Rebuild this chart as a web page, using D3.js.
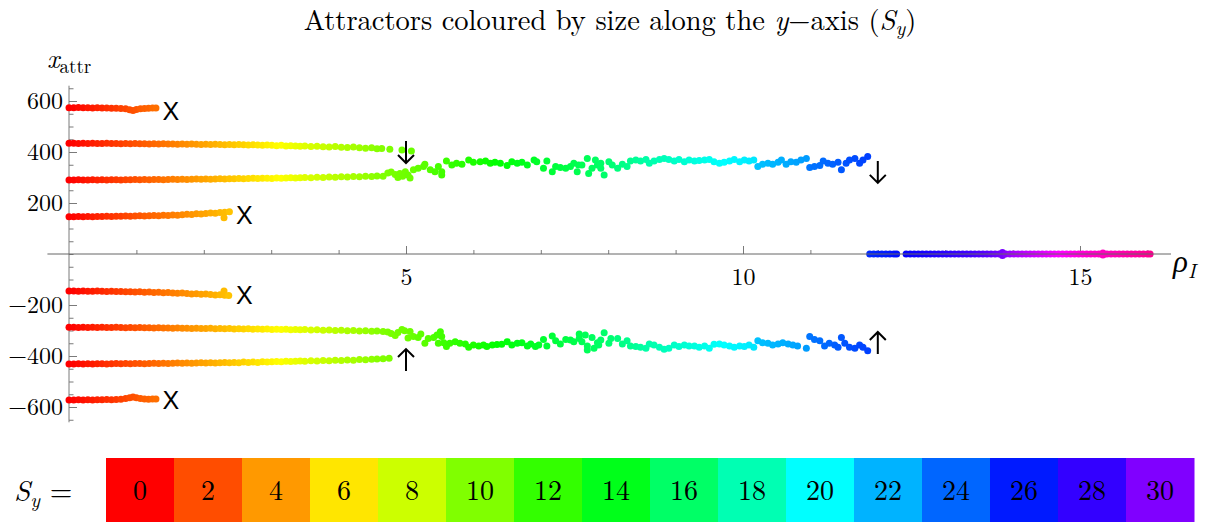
<!DOCTYPE html>
<html>
<head>
<meta charset="utf-8">
<script src="https://cdn.jsdelivr.net/npm/d3@7"></script>
<style>
  body { margin: 0; background: #fff; }
  text { font-family: "Latin Modern Roman", "CMU Serif", "Liberation Serif", serif; }
  .tick text { font-family: "Latin Modern Roman", "CMU Serif", "Liberation Serif", serif; font-size: 24px; fill: #000; }
  .tick line { stroke: #7a7a7a; }
</style>
</head>
<body>
<div id="chart"></div>
<script>
// each point: [rho_I, x_attr, S_y]
const upperOuter = [[0,574,0],[0.07,574,0.1],[0.14,575,0.3],[0.21,574,0.4],[0.28,574,0.6],[0.35,573,0.7],[0.42,574,0.9],[0.49,573,1.0],[0.56,573,1.2],[0.63,572,1.3],[0.70,572,1.5],[0.77,571,1.7],[0.84,570,1.8],[0.90,566,2.0],[0.95,563,2.1],[1.00,567,2.2],[1.06,570,2.4],[1.12,571,2.5],[1.18,572,2.6],[1.24,573,2.8],[1.29,573,2.9]];

const upperMiddle = [[0,434,0],[0.07,434,0.1],[0.14,433,0.3],[0.21,434,0.4],[0.28,433,0.6],[0.35,434,0.7],[0.42,433,0.9],[0.49,433,1.0],[0.56,434,1.2],[0.63,433,1.3],[0.70,433,1.5],[0.77,432,1.6],[0.84,433,1.8],[0.91,432,1.9],[0.98,433,2.1],[1.05,432,2.2],[1.12,432,2.4],[1.19,431,2.5],[1.26,432,2.7],[1.33,431,2.8],[1.40,432,3.0],[1.47,431,3.1],[1.54,431,3.3],[1.61,430,3.4],[1.68,431,3.6],[1.75,430,3.7],[1.82,431,3.9],[1.89,430,4.0],[1.96,429,4.2],[2.03,430,4.3],[2.10,429,4.5],[2.17,430,4.6],[2.24,429,4.8],[2.31,428,4.9],[2.38,429,5.1],[2.45,428,5.2],[2.52,429,5.4],[2.59,428,5.5],[2.66,427,5.7],[2.73,428,5.8],[2.80,427,6.0],[2.87,426,6.1],[2.94,427,6.3],[3.01,426,6.4],[3.08,425,6.6],[3.15,426,6.7],[3.22,424,6.9],[3.29,425,7.0],[3.36,424,7.2],[3.43,423,7.3],[3.50,424,7.5],
  [3.59,422,7.7],[3.68,423,7.9],[3.77,421,8.1],[3.86,420,8.3],[3.95,422,8.5],[4.04,419,8.7],[4.13,418,8.9],[4.22,420,9.0],[4.31,417,9.2],[4.40,415,9.4],[4.49,417,9.6],[4.57,413,9.8],[4.64,414,9.9],[4.76,411,10.1],[4.94,408,10.4],[5.08,404,10.6]];

const upperInner = [[0,146,0],[0.07,146,0.1],[0.14,147,0.3],[0.21,146,0.4],[0.28,147,0.6],[0.35,146,0.7],[0.42,147,0.9],[0.49,147,1.0],[0.56,148,1.2],[0.63,147,1.3],[0.70,148,1.5],[0.77,148,1.6],[0.84,149,1.8],[0.91,148,1.9],[0.98,149,2.1],[1.05,150,2.2],[1.12,149,2.4],[1.19,150,2.5],[1.26,151,2.7],[1.33,150,2.8],[1.40,152,3.0],[1.47,151,3.1],[1.54,153,3.3],[1.61,152,3.4],[1.68,154,3.6],[1.75,156,3.7],[1.82,155,3.9],[1.89,158,4.0],[1.96,157,4.2],[2.03,159,4.3],[2.10,161,4.5],[2.17,160,4.6],[2.24,163,4.8],[2.30,142,4.9],[2.31,164,4.9],[2.38,166,5.1]];

const upperMerged = [[0,290,0],[0.07,290,0.1],[0.14,291,0.3],[0.21,290,0.4],[0.28,290,0.6],[0.35,291,0.7],[0.42,290,0.9],[0.49,291,1.0],[0.56,290,1.2],[0.63,291,1.3],[0.70,291,1.5],[0.77,290,1.6],[0.84,291,1.8],[0.91,291,1.9],[0.98,292,2.1],[1.05,291,2.2],[1.12,292,2.4],[1.19,291,2.5],[1.26,292,2.7],[1.33,292,2.8],[1.40,291,3.0],[1.47,292,3.1],[1.54,293,3.3],[1.61,292,3.4],[1.68,293,3.6],[1.75,292,3.7],[1.82,293,3.9],[1.89,294,4.0],[1.96,293,4.2],[2.03,294,4.3],[2.10,293,4.5],[2.17,294,4.6],[2.24,295,4.8],[2.31,294,4.9],[2.38,295,5.1],[2.45,295,5.2],[2.52,296,5.4],[2.59,295,5.5],[2.66,296,5.7],[2.73,297,5.8],[2.80,296,6.0],[2.87,297,6.1],[2.94,297,6.3],[3.01,296,6.4],[3.08,298,6.6],[3.15,297,6.7],[3.22,298,6.9],[3.29,299,7.0],[3.36,298,7.2],[3.43,299,7.3],[3.50,300,7.5],
  [3.59,299,7.7],[3.68,301,7.9],[3.77,300,8.1],[3.86,302,8.3],[3.95,301,8.5],[4.04,303,8.7],[4.13,302,8.9],[4.22,304,9.0],[4.31,303,9.2],[4.40,305,9.4],[4.49,304,9.6],[4.57,306,9.8],[4.66,305,10.0],
  [4.73,318,10.1],[4.78,322,10.2],[4.84,312,10.2],[4.88,300,10.3],[4.91,316,10.3],[4.95,305,10.4],[4.99,323,10.4],[5.03,310,10.5],[5.06,298,10.5],
  [5.11,330,10.6],[5.18,336,10.8],[5.26,343,11.0],[5.28,352,11.0],[5.36,330,11.2],[5.43,323,11.4],[5.48,343,11.5],[5.53,310,11.6],[5.53,323,11.6],
  [5.60,365,11.8],[5.68,349,12.0],[5.75,356,12.1],[5.83,352,12.3],[5.93,369,12.5],[6.00,360,12.6],[6.10,362,12.8],[6.18,365,13.0],[6.25,356,13.1],[6.32,360,13.3],[6.40,356,13.4],[6.50,347,13.6],[6.57,362,13.7],[6.65,356,13.9],[6.72,360,14.0],[6.80,349,14.1],[6.90,369,14.3],[6.94,362,14.4],
  [7.04,336,14.6],[7.09,365,14.7],[7.17,323,14.8],[7.22,343,14.9],[7.29,339,15.0],[7.37,336,15.1],[7.44,343,15.2],[7.49,356,15.3],[7.54,323,15.4],[7.56,349,15.4],[7.61,349,15.5],[7.69,375,15.6],[7.71,316,15.7],[7.76,336,15.8],[7.81,369,15.9],[7.84,349,15.9],[7.89,336,16.0],[7.89,356,16.0],[7.94,310,16.1],[8.01,362,16.3],[8.06,349,16.4],[8.14,336,16.6],[8.21,352,16.8],[8.28,343,17.0],
  [8.33,365,17.1],[8.41,369,17.3],[8.48,365,17.5],[8.56,371,17.7],[8.61,356,17.8],[8.68,365,17.9],[8.76,371,18.1],[8.83,375,18.2],[8.90,371,18.4],[8.98,365,18.5],[9.05,371,18.7],[9.13,362,18.8],[9.20,369,19.0],[9.28,365,19.1],[9.35,367,19.3],[9.43,369,19.4],[9.50,371,19.6],[9.57,362,19.7],[9.65,356,19.9],[9.72,360,20.0],[9.80,365,20.1],[9.87,371,20.2],[9.95,362,20.3],[10.02,369,20.4],[10.09,365,20.5],[10.16,369,20.6],
  [10.22,343,21.6],[10.29,352,21.7],[10.37,356,21.8],[10.44,352,21.9],[10.52,360,22.0],[10.57,369,22.1],[10.64,352,22.2],[10.71,362,22.3],[10.79,360,22.4],[10.86,369,22.5],[10.94,375,22.6],
  [10.99,339,23.6],[11.06,343,23.7],[11.14,347,23.8],[11.19,365,23.9],[11.26,356,24.0],[11.33,352,24.1],[11.41,360,24.3],[11.46,330,24.4],[11.53,356,24.5],[11.58,369,24.6],[11.66,375,24.7],[11.73,356,24.8],[11.78,369,24.9],[11.85,382,25.0]];

const axisBranch = [[11.88,0,25.6],[11.94,0,25.7],[12.00,0,25.8],[12.06,0,25.9],[12.12,0,26.0],[12.18,0,26.1],[12.24,0,26.2],[12.28,0,26.3],
  [12.42,0,26.8],[12.48,0,26.9],[12.54,0,27.0],[12.60,0,27.1],[12.66,0,27.2],[12.72,0,27.3],[12.78,0,27.4],[12.84,0,27.5],[12.90,0,27.6],[12.96,0,27.7],[13.02,0,27.8],[13.08,0,27.9],[13.14,0,28.0],[13.20,0,28.1],[13.26,0,28.2],[13.32,0,28.3],[13.38,0,28.4],[13.44,0,28.5],[13.50,0,28.7],[13.56,0,28.8],[13.62,0,29.0],[13.68,0,29.2],[13.74,0,29.4],[13.80,0,29.6],[13.85,6,29.8],[13.85,-6,29.8],[13.90,0,30.2],[13.96,0,30.6],[14.02,0,31.0],[14.08,0,31.2],[14.14,0,31.4],[14.20,0,31.6],[14.26,0,31.8],[14.32,0,32.0],[14.38,0,32.2],[14.44,0,32.4],[14.50,0,32.6],[14.56,0,32.8],[14.62,0,33.0],[14.68,0,33.2],[14.74,0,33.4],[14.80,0,33.6],[14.86,0,33.8],[14.92,0,34.0],[14.98,0,34.2],[15.04,0,34.4],[15.10,0,34.6],[15.16,0,34.7],[15.22,0,34.8],[15.28,0,34.9],[15.34,4,35.0],[15.34,-4,35.0],[15.40,0,35.1],[15.46,0,35.2],[15.52,0,35.3],[15.58,0,35.4],[15.64,0,35.5],[15.70,0,35.6],[15.76,0,35.7],[15.82,0,35.8],[15.88,0,35.9],[15.94,0,36.0],[16.00,0,36.1],[16.04,0,36.2]];

const lowerInner = [[0,-145,0],[0.07,-145,0.1],[0.14,-146,0.3],[0.21,-145,0.4],[0.28,-146,0.6],[0.35,-146,0.7],[0.42,-145,0.9],[0.49,-146,1.0],[0.56,-147,1.2],[0.63,-146,1.3],[0.70,-147,1.5],[0.77,-147,1.6],[0.84,-148,1.8],[0.91,-148,1.9],[0.98,-149,2.1],[1.05,-148,2.2],[1.12,-150,2.4],[1.19,-149,2.5],[1.26,-151,2.7],[1.33,-150,2.8],[1.40,-152,3.0],[1.47,-151,3.1],[1.54,-153,3.3],[1.61,-154,3.4],[1.68,-153,3.6],[1.75,-155,3.7],[1.82,-157,3.9],[1.89,-156,4.0],[1.96,-158,4.2],[2.03,-157,4.3],[2.10,-159,4.5],[2.17,-161,4.6],[2.24,-160,4.8],[2.30,-145,4.9],[2.31,-162,4.9],[2.37,-163,5.1]];

const lowerMerged = [[0,-287,0],[0.07,-287,0.1],[0.14,-288,0.3],[0.21,-287,0.4],[0.28,-288,0.6],[0.35,-287,0.7],[0.42,-288,0.9],[0.49,-287,1.0],[0.56,-288,1.2],[0.63,-288,1.3],[0.70,-287,1.5],[0.77,-288,1.6],[0.84,-289,1.8],[0.91,-288,1.9],[0.98,-289,2.1],[1.05,-288,2.2],[1.12,-289,2.4],[1.19,-289,2.5],[1.26,-290,2.7],[1.33,-289,2.8],[1.40,-290,3.0],[1.47,-290,3.1],[1.54,-291,3.3],[1.61,-290,3.4],[1.68,-291,3.6],[1.75,-291,3.7],[1.82,-292,3.9],[1.89,-291,4.0],[1.96,-292,4.2],[2.03,-292,4.3],[2.10,-291,4.5],[2.17,-293,4.6],[2.24,-292,4.8],[2.31,-293,4.9],[2.38,-292,5.1],[2.45,-294,5.2],[2.52,-293,5.4],[2.59,-294,5.5],[2.66,-293,5.7],[2.73,-295,5.8],[2.80,-294,6.0],[2.87,-295,6.1],[2.94,-294,6.3],[3.01,-296,6.4],[3.08,-295,6.6],[3.15,-296,6.7],[3.22,-295,6.9],[3.29,-297,7.0],[3.36,-296,7.2],[3.43,-297,7.3],[3.50,-296,7.5],
  [3.59,-298,7.7],[3.68,-297,7.9],[3.77,-299,8.1],[3.86,-298,8.3],[3.95,-300,8.5],[4.04,-299,8.7],[4.13,-301,8.9],[4.22,-300,9.0],[4.31,-302,9.2],[4.40,-301,9.4],[4.49,-303,9.6],[4.57,-302,9.8],[4.66,-304,10.0],
  [4.73,-306,10.1],[4.78,-312,10.2],[4.84,-320,10.2],[4.88,-308,10.3],[4.94,-296,10.4],[4.98,-301,10.4],[5.03,-329,10.5],[5.06,-304,10.5],
  [5.11,-324,10.6],[5.18,-327,10.8],[5.22,-314,10.9],[5.28,-350,11.0],[5.33,-331,11.1],[5.41,-327,11.3],[5.46,-318,11.5],[5.48,-350,11.5],[5.51,-305,11.6],[5.53,-324,11.6],
  [5.56,-348,11.7],[5.60,-363,11.8],[5.65,-350,11.9],[5.73,-344,12.1],[5.80,-350,12.2],[5.88,-353,12.4],[5.93,-366,12.5],[6.00,-357,12.6],[6.08,-361,12.8],[6.15,-357,12.9],[6.20,-363,13.0],[6.28,-357,13.2],[6.35,-355,13.3],[6.42,-354,13.4],[6.50,-344,13.6],[6.57,-357,13.7],[6.65,-350,13.9],[6.72,-348,14.0],[6.80,-361,14.1],[6.85,-353,14.2],[6.92,-363,14.3],[6.97,-357,14.4],
  [7.04,-335,14.6],[7.09,-361,14.7],[7.17,-322,14.8],[7.22,-340,14.9],[7.29,-353,15.0],[7.37,-335,15.1],[7.44,-337,15.2],[7.49,-344,15.3],[7.57,-314,15.4],[7.57,-331,15.4],[7.61,-344,15.5],[7.66,-318,15.6],[7.69,-361,15.6],[7.69,-376,15.6],[7.76,-327,15.8],[7.79,-370,15.8],[7.84,-348,15.9],[7.86,-357,15.9],[7.89,-337,16.0],[7.94,-309,16.1],[8.01,-350,16.3],[8.04,-331,16.3],[8.14,-331,16.6],[8.21,-353,16.8],[8.28,-340,17.0],
  [8.33,-361,17.1],[8.41,-363,17.3],[8.48,-366,17.5],[8.56,-370,17.7],[8.61,-353,17.8],[8.68,-357,17.9],[8.76,-366,18.1],[8.83,-374,18.2],[8.90,-370,18.4],[8.98,-357,18.5],[9.05,-363,18.7],[9.13,-357,18.8],[9.20,-361,19.0],[9.28,-361,19.1],[9.35,-366,19.3],[9.43,-361,19.4],[9.50,-370,19.6],[9.57,-354,19.7],[9.65,-353,19.9],[9.72,-357,20.0],[9.80,-361,20.1],[9.87,-366,20.2],[9.95,-361,20.3],[10.02,-363,20.4],[10.09,-357,20.5],[10.16,-366,20.6],
  [10.22,-340,21.6],[10.29,-348,21.7],[10.37,-350,21.8],[10.44,-357,21.9],[10.52,-353,22.0],[10.59,-348,22.1],[10.67,-353,22.2],[10.74,-357,22.3],[10.81,-361,22.4],[10.94,-370,22.6],
  [10.99,-324,23.6],[11.06,-335,23.7],[11.14,-340,23.8],[11.21,-361,23.9],[11.28,-350,24.0],[11.36,-357,24.2],[11.41,-366,24.3],[11.46,-327,24.4],[11.51,-350,24.5],[11.58,-366,24.6],[11.66,-370,24.7],[11.73,-357,24.8],[11.78,-366,24.9],[11.85,-379,25.0]];

const lowerMiddle = [[0,-431,0],[0.07,-431,0.1],[0.14,-430,0.3],[0.21,-431,0.4],[0.28,-430,0.6],[0.35,-431,0.7],[0.42,-430,0.9],[0.49,-430,1.0],[0.56,-431,1.2],[0.63,-430,1.3],[0.70,-429,1.5],[0.77,-430,1.6],[0.84,-429,1.8],[0.91,-430,1.9],[0.98,-429,2.1],[1.05,-429,2.2],[1.12,-430,2.4],[1.19,-429,2.5],[1.26,-428,2.7],[1.33,-429,2.8],[1.40,-428,3.0],[1.47,-429,3.1],[1.54,-428,3.3],[1.61,-427,3.4],[1.68,-428,3.6],[1.75,-427,3.7],[1.82,-428,3.9],[1.89,-427,4.0],[1.96,-426,4.2],[2.03,-427,4.3],[2.10,-426,4.5],[2.17,-427,4.6],[2.24,-426,4.8],[2.31,-425,4.9],[2.38,-426,5.1],[2.45,-425,5.2],[2.52,-426,5.4],[2.59,-424,5.5],[2.66,-425,5.7],[2.73,-424,5.8],[2.80,-425,6.0],[2.87,-423,6.1],[2.94,-424,6.3],[3.01,-423,6.4],[3.08,-422,6.6],[3.15,-423,6.7],[3.22,-421,6.9],[3.29,-422,7.0],[3.36,-421,7.2],[3.43,-420,7.3],[3.50,-421,7.5],
  [3.59,-419,7.7],[3.68,-420,7.9],[3.77,-418,8.1],[3.86,-419,8.3],[3.95,-417,8.5],[4.04,-418,8.7],[4.13,-416,8.9],[4.22,-417,9.0],[4.31,-414,9.2],[4.40,-415,9.4],[4.49,-413,9.6],[4.57,-412,9.8],[4.66,-411,10.0],[4.75,-409,10.1]];

const lowerOuter = [[0,-573,0],[0.07,-573,0.1],[0.14,-572,0.3],[0.21,-573,0.4],[0.28,-572,0.6],[0.35,-573,0.7],[0.42,-572,0.9],[0.49,-572,1.0],[0.56,-571,1.2],[0.63,-572,1.3],[0.70,-571,1.5],[0.77,-570,1.7],[0.84,-567,1.8],[0.90,-564,2.0],[0.95,-561,2.1],[1.00,-564,2.2],[1.06,-567,2.4],[1.12,-569,2.5],[1.18,-570,2.6],[1.24,-569,2.8],[1.29,-569,2.9]];

// annotations, in data coordinates
const crossMarks = [[1.51,561],[2.60,153],[2.60,-161],[1.51,-573]];
const downArrows = [[5.0,400],[12.0,322]];
const upArrows = [[5.0,-416],[12.0,-349]];

const xMajorTicks = [5, 10, 15];
const yMajorTicks = [-600, -400, -200, 200, 400, 600];
const legendValues = [0,2,4,6,8,10,12,14,16,18,20,22,24,26,28,30];

const width = 1219, height = 522;
const hue = s => d3.hsl(s * 9, 1, 0.5).toString();

const svg = d3.select("#chart").append("svg")
  .attr("width", width).attr("height", height)
  .style("background", "#fff");

const x = d3.scaleLinear().domain([0, 16]).range([69, 69 + 16 * 67.4]);
const y = d3.scaleLinear().domain([-660, 660]).range([422.3, 85.7]);

// title
const title = svg.append("text")
  .attr("x", 610).attr("y", 30)
  .attr("text-anchor", "middle")
  .style("font-size", "28.5px");
title.append("tspan").text("Attractors coloured by size along the ");
title.append("tspan").style("font-style", "italic").text("y");
title.append("tspan").text("\u2212axis (");
title.append("tspan").style("font-style", "italic").text("S");
title.append("tspan").attr("dy", 5).style("font-size", "20px").style("font-style", "italic").text("y");
title.append("tspan").attr("dy", -5).text(")");

// y axis
svg.append("line")
  .attr("x1", x(0)).attr("x2", x(0))
  .attr("y1", y(660)).attr("y2", y(-660))
  .attr("stroke", "#7a7a7a");

svg.append("g")
  .attr("transform", `translate(${x(0)},0)`)
  .call(d3.axisRight(y).tickValues(d3.range(-650, 651, 50)).tickSize(4.5).tickFormat(""))
  .call(g => g.select(".domain").remove());

svg.append("g")
  .attr("transform", `translate(${x(0)},0)`)
  .call(d3.axisLeft(y).tickValues(yMajorTicks).tickSize(-8).tickPadding(6)
    .tickFormat(d => d < 0 ? "\u2212" + Math.abs(d) : d))
  .call(g => g.select(".domain").remove());

// x axis ticks
svg.append("g")
  .attr("transform", `translate(0,${y(0)})`)
  .call(d3.axisBottom(x).tickValues(d3.range(1, 17)).tickSize(-4).tickFormat(""))
  .call(g => g.select(".domain").remove());

svg.append("g")
  .attr("transform", `translate(0,${y(0)})`)
  .call(d3.axisBottom(x).tickValues(xMajorTicks).tickSize(-8).tickPadding(14))
  .call(g => g.select(".domain").remove());

// axis labels
const yLab = svg.append("text").attr("x", 47).attr("y", 68).style("font-size", "27px");
yLab.append("tspan").style("font-style", "italic").text("x");
yLab.append("tspan").attr("dy", 5).style("font-size", "19px").text("attr");

const xLab = svg.append("text").attr("x", 1173).attr("y", 272).style("font-size", "31px");
xLab.append("tspan").style("font-style", "italic").text("\u03c1");
xLab.append("tspan").attr("dy", 6).style("font-size", "20px").style("font-style", "italic").text("I");

// points
const branches = [upperOuter, upperMiddle, upperInner, upperMerged, lowerInner, lowerMerged, lowerMiddle, lowerOuter, axisBranch];
const pts = svg.append("g");
branches.forEach(b => {
  pts.selectAll(null)
    .data(b)
    .enter()
    .append("circle")
    .attr("cx", d => x(d[0]))
    .attr("cy", d => y(d[1]))
    .attr("r", 3.5)
    .attr("fill", d => hue(d[2]));
});

// rho axis line drawn over the points
svg.append("line")
  .attr("x1", x(-0.32)).attr("x2", x(16.35))
  .attr("y1", y(0)).attr("y2", y(0))
  .attr("stroke", "#666");

// annotations
svg.append("g").selectAll("text")
  .data(crossMarks)
  .enter()
  .append("text")
  .attr("x", d => x(d[0]))
  .attr("y", d => y(d[1]))
  .attr("text-anchor", "middle")
  .attr("dominant-baseline", "central")
  .style("font-family", "'Liberation Sans', Arial, sans-serif")
  .style("font-size", "25px")
  .text("X");

const arrowGroup = svg.append("g").attr("stroke", "#000").attr("stroke-width", 2).attr("fill", "none");
arrowGroup.selectAll(".down")
  .data(downArrows)
  .enter()
  .append("path")
  .attr("class", "down")
  .attr("transform", d => `translate(${x(d[0])},${y(d[1])})`)
  .attr("d", "M0,-11V11M-8,3L0,11L8,3");
arrowGroup.selectAll(".up")
  .data(upArrows)
  .enter()
  .append("path")
  .attr("class", "up")
  .attr("transform", d => `translate(${x(d[0])},${y(d[1])})`)
  .attr("d", "M0,11V-11M-8,-3L0,-11L8,-3");

// legend
const lx = d3.scaleBand().domain(legendValues).range([106, 1194]);
const leg = svg.append("g");
leg.selectAll("rect")
  .data(legendValues)
  .enter()
  .append("rect")
  .attr("x", d => lx(d))
  .attr("y", 458)
  .attr("width", lx.bandwidth() + 0.5)
  .attr("height", 70)
  .attr("fill", hue);
leg.selectAll("text")
  .data(legendValues)
  .enter()
  .append("text")
  .attr("x", d => lx(d) + lx.bandwidth() / 2)
  .attr("y", 500)
  .attr("text-anchor", "middle")
  .style("font-size", "28px")
  .text(d => d);

const sLab = svg.append("text").attr("x", 14).attr("y", 501).style("font-size", "29px");
sLab.append("tspan").style("font-style", "italic").text("S");
sLab.append("tspan").attr("dy", 6).style("font-size", "20px").style("font-style", "italic").text("y");
sLab.append("tspan").attr("dy", -6).text(" =");
</script>
</body>
</html>
